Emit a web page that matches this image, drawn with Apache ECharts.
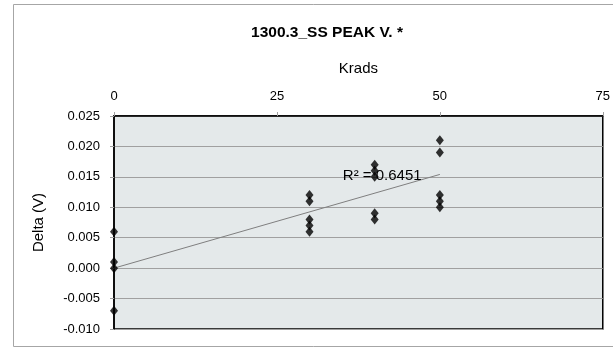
<!DOCTYPE html>
<html><head><meta charset="utf-8">
<script src="https://cdn.jsdelivr.net/npm/echarts@6/dist/echarts.min.js"></script>
<style>html,body{margin:0;padding:0;background:#fff}#c{width:613px;height:348px}</style>
</head><body><div id="c"></div>
<script>
// Krads values and Delta (V) measured
const kradsX = [0, 0, 0, 0, 30, 30, 30, 30, 30, 40, 40, 40, 40, 40, 50, 50, 50, 50, 50];
const deltaY = [0.006, 0.001, 0.000, -0.007, 0.012, 0.011, 0.008, 0.007, 0.006, 0.017, 0.016, 0.015, 0.009, 0.008, 0.021, 0.019, 0.012, 0.011, 0.010];
// trendline endpoints
const trendX = [0, 50];
const trendY = [0.0, 0.0154];
const r2Text = 'R² = 0.6451';
const xTicks = [0, 25, 50, 75];
const yTicks = [-0.010, -0.005, 0.000, 0.005, 0.010, 0.015, 0.020, 0.025];

const font = 'Liberation Sans, Arial, sans-serif';
const chart = echarts.init(document.getElementById('c'));
chart.setOption({
  animation: false,
  textStyle: { fontFamily: font },
  title: {
    text: '1300.3_SS PEAK V. *', left: 322, top: 20, textAlign: 'center',
    textStyle: { fontFamily: font, fontSize: 15.5, fontWeight: 'bold', color: '#000' }
  },
  graphic: [{
    type: 'rect', shape: { x: 13.5, y: 4.5, width: 620, height: 342 },
    style: { fill: 'none', stroke: '#A6A6A6', lineWidth: 1 }, silent: true, z: -1
  }],
  grid: {
    left: 114, right: 6, top: 116, bottom: 19, show: true,
    backgroundColor: '#E4E9EA', borderColor: '#000', borderWidth: 1.5
  },
  xAxis: {
    type: 'value', position: 'top', min: xTicks[0], max: xTicks[xTicks.length - 1], interval: 25,
    name: 'Krads', nameLocation: 'middle', nameGap: 40,
    nameTextStyle: { fontFamily: font, fontSize: 15, color: '#000' },
    axisLine: { show: true, onZero: false, lineStyle: { color: '#000', width: 1.5 } },
    axisTick: { show: true, length: 4, lineStyle: { color: '#A0A0A0' } },
    axisLabel: { margin: 13, fontSize: 13, color: '#000', fontFamily: font },
    splitLine: { show: false }
  },
  yAxis: {
    type: 'value', min: yTicks[0], max: yTicks[yTicks.length - 1], interval: 0.005,
    name: 'Delta (V)', nameLocation: 'middle', nameGap: 68, nameRotate: 90,
    nameTextStyle: { fontFamily: font, fontSize: 15, color: '#000' },
    axisLine: { show: true, onZero: false, lineStyle: { color: '#000', width: 1.5 } },
    axisTick: { show: true, length: 4, lineStyle: { color: '#A0A0A0' } },
    axisLabel: { margin: 14, fontSize: 13, color: '#000', fontFamily: font,
      formatter: v => v.toFixed(3) },
    splitLine: { show: true, lineStyle: { color: '#A0A0A0', width: 1 } }
  },
  series: [
    {
      type: 'line', data: trendX.map((x, i) => [x, trendY[i]]), symbol: 'none',
      lineStyle: { color: '#7F7F7F', width: 1 }, z: 2,
      label: { show: false },
      endLabel: { show: true, formatter: () => r2Text, position: 'left', distance: 0,
        offset: [-97, 1], fontSize: 15, color: '#000', fontFamily: font }
    },
    {
      type: 'scatter', data: kradsX.map((x, i) => [x, deltaY[i]]),
      symbol: 'diamond', symbolSize: [8, 10], itemStyle: { color: '#000' }, z: 3
    }
  ]
});
</script></body></html>
